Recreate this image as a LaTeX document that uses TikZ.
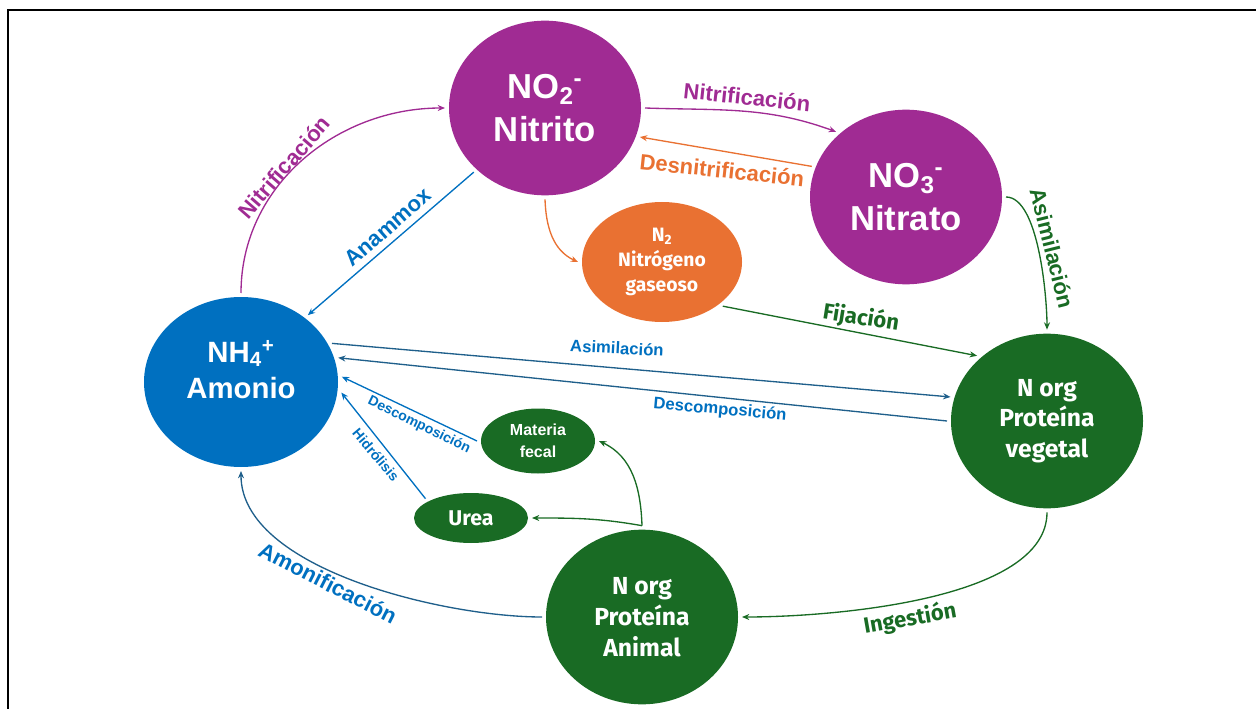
\documentclass[tikz,border=0pt]{standalone}
\usepackage{fontspec}
\setmainfont{Liberation Sans}
\newfontfamily\firasans{Fira Sans}
\usetikzlibrary{positioning,shapes.geometric,arrows.meta}
\definecolor{NPurple}{HTML}{A02B93}
\definecolor{NOrange}{HTML}{E97132}
\definecolor{NBlue}{HTML}{0070C0}
\definecolor{NGreen}{HTML}{196B24}
\definecolor{NTeal}{HTML}{1F5F8B}

\begin{document}
\begin{tikzpicture}[x=0.75pt, y=-0.75pt,
    c/.style={ellipse, inner sep=0pt, outer sep=3pt, text=white, align=center},
    big/.style={c, minimum width=144pt, minimum height=131pt},
    gtxt/.style={font=\firasans\bfseries\fontsize{18.5}{23}\selectfont},
    lb/.style={font=\bfseries\fontsize{16.5}{18}\selectfont, inner sep=0pt},
    sm/.style={font=\bfseries\fontsize{12.5}{14}\selectfont, inner sep=0pt},
    xs/.style={font=\bfseries\fontsize{10.5}{12}\selectfont, inner sep=0pt},
    arr/.style={-{Stealth[length=5.5pt, width=4.5pt]}, line width=1pt}]
  \useasboundingbox (0,0) rectangle (1256,709);
  \draw[line width=2.2pt] (8,715) -- (8,10) -- (1262,10);

  % compuestos
  \node[big, fill=NPurple, font=\bfseries\fontsize{26}{32}\selectfont] (no2) at (545,108) {NO\textsubscript{2}\textsuperscript{-}\\Nitrito};
  \node[big, fill=NPurple, font=\bfseries\fontsize{26}{32}\selectfont] (no3) at (906,197) {NO\textsubscript{3}\textsuperscript{-}\\Nitrato};
  \node[c, fill=NOrange, minimum width=120pt, minimum height=90pt,
    font=\firasans\bfseries\fontsize{14.5}{19}\selectfont] (n2) at (662,262) {N\textsubscript{2}\\Nitrógeno\\gaseoso};
  \node[c, fill=NBlue, minimum width=145.5pt, minimum height=127.5pt,
    font=\bfseries\fontsize{22}{27}\selectfont] (nh4) at (241,382) {NH\textsubscript{4}\textsuperscript{+}\\Amonio\\[-8pt]\mbox{}};
  \node[big, fill=NGreen, gtxt] (veg) at (1047,421) {N org\\Proteína\\vegetal};
  \node[big, fill=NGreen, gtxt] (ani) at (642,617) {N org\\Proteína\\Animal};
  \node[c, fill=NGreen, minimum width=85.5pt, minimum height=48.75pt,
    font=\bfseries\fontsize{12}{16.5}\selectfont] (fec) at (538,441) {Materia\\fecal};
  \node[c, fill=NGreen, minimum width=85.5pt, minimum height=37.5pt,
    font=\firasans\bfseries\fontsize{16}{18}\selectfont] (urea) at (471,518) {Urea};

  % flechas
  \draw[arr, NPurple] (nh4.north) to[out=90, in=180] (no2.west);
  \draw[arr, NPurple] (no2.east) to[out=-2, in=160] (no3.137);
  \draw[arr, NOrange] (no3.162) -- (no2.-17);
  \draw[arr, NOrange] (no2.south) to[out=-88, in=155] (n2.west);
  \draw[arr, NBlue] (no2.222) -- (nh4.45);
  \draw[arr, NGreen] (no3.east) to[out=0, in=90, looseness=0.6] (veg.north);
  \draw[arr, NGreen] (n2.-36) -- (veg.137);
  \draw[arr, NTeal] (nh4.23) -- (veg.166);
  \draw[arr, NTeal] (veg.west) -- (nh4.14);
  \draw[arr, NBlue] (fec.west) -- (nh4.3);
  \draw[arr, NBlue] (urea.157) -- (nh4.-6);
  \draw[arr, NTeal] (ani.west) to[out=180, in=-90, looseness=0.75] (nh4.south);
  \draw[arr, NGreen] (veg.south) to[out=-90, in=0, looseness=0.7] (ani.east);
  \draw[arr, NGreen] (ani.north) to[out=92, in=-25] (fec.east);
  \draw[arr, NGreen] (ani.north) to[out=170, in=0] (urea.east);

  % procesos
  \node[lb, text=NPurple, rotate=49] (lnita) at (284,167) {Nitrificación};
  \node[lb, text=NPurple, rotate=-6] (lnitb) at (747,97) {Nitrificación};
  \node[lb, text=NOrange, rotate=-6] (ldesn) at (722,170) {Desnitrificación};
  \node[lb, text=NBlue, rotate=41] (lanam) at (388,227) {Anammox};
  \node[lb, text=NGreen, rotate=-76] (lasiv) at (1052,248) {Asimilación};
  \node[lb, text=NGreen, rotate=-9, font=\firasans\bfseries\fontsize{16.5}{18}\selectfont] (lfij) at (861,318) {Fijación};
  \node[sm, text=NBlue, rotate=-3] (lasim) at (617,348) {Asimilación};
  \node[sm, text=NBlue, rotate=-5] (ldesc) at (720,410) {Descomposición};
  \node[xs, text=NBlue, rotate=-26] (ldesf) at (419,425) {Descomposición};
  \node[xs, text=NBlue, rotate=-50] (lhidr) at (376,455) {Hidrólisis};
  \node[lb, text=NBlue, rotate=-27] (lamon) at (328,583) {Amonificación};
  \node[lb, text=NGreen, rotate=10, font=\firasans\bfseries\fontsize{16.5}{18}\selectfont] (ling) at (910,619) {Ingestión};
\end{tikzpicture}
\end{document}
